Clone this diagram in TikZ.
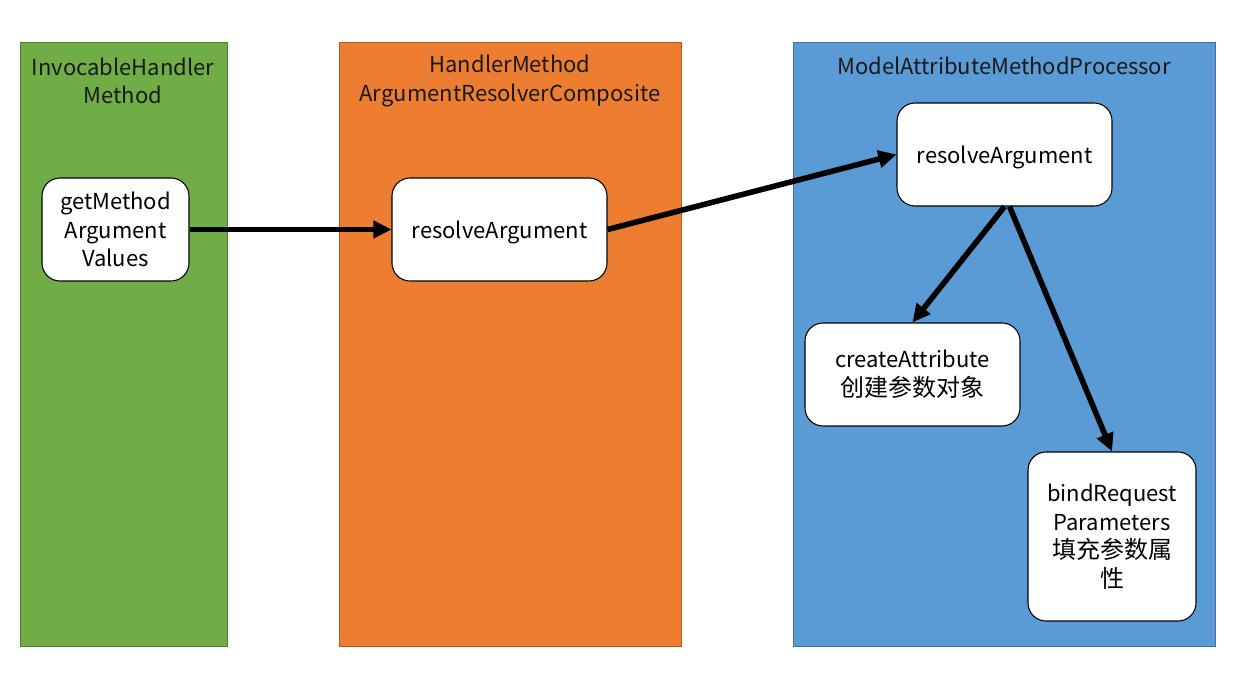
\documentclass[tikz,border=0pt]{standalone}
\usepackage{fontspec}
\newfontfamily\cjk{Noto Sans CJK SC}
\usetikzlibrary{arrows.meta}
\definecolor{pgreen}{HTML}{70AD47}
\definecolor{pgreenb}{HTML}{507E32}
\definecolor{porange}{HTML}{ED7D31}
\definecolor{porangeb}{HTML}{AE5A21}
\definecolor{pblue}{HTML}{5B9BD5}
\definecolor{pblueb}{HTML}{41719C}
\newcommand\zhtxt[1]{{\fontsize{18pt}{21.4pt}\selectfont #1}}
\tikzset{
  panel/.style={draw=#1, line width=0.75pt},
  ttl/.style={font=\cjk\fontsize{16.5pt}{21.4pt}\selectfont, text=black!90, align=center, inner sep=0pt},
  fbox/.style={draw=black, fill=white, line width=0.8pt, rounded corners=13.5pt, align=center, inner sep=0pt,
    font=\cjk\fontsize{16.5pt}{21.4pt}\selectfont, execute at begin node={\rule{0pt}{17pt}}},
  flow/.style={line width=4.2pt, -{Triangle[length=13.5pt,width=12.75pt]}}
}
\begin{document}
\begin{tikzpicture}[x=0.75pt,y=-0.75pt]
\useasboundingbox (0,0) rectangle (1252,684);
\fill[white] (0,0) rectangle (1252,684);
% panels
\draw[panel=pgreenb, fill=pgreen] (20,43) rectangle (227,646);
\draw[panel=porangeb, fill=porange] (339,43) rectangle (681,646);
\draw[panel=pblueb, fill=pblue] (793,43) rectangle (1215,646);
% titles
\node[ttl] (t1) at (123,81) {InvocableHandler\\Method};
\node[ttl] (t2) at (510,81) {HandlerMethod\\ArgumentResolverComposite};
\node[ttl] (t3) at (1004,66) {ModelAttributeMethodProcessor};
% boxes
\node[fbox, minimum width=110.25pt, minimum height=77.25pt] (gm) at (115.5,229.5) {getMethod\\Argument\\Values};
\node[fbox, minimum width=161.25pt, minimum height=77.25pt] (r1) at (499.5,229.5) {resolveArgument};
\node[fbox, minimum width=161.25pt, minimum height=77.25pt] (r2) at (1004.5,154.5) {resolveArgument};
\node[fbox, minimum width=161.25pt, minimum height=77.25pt] (ca) at (912.5,374.5) {createAttribute\\\zhtxt{创建参数对象}};
\node[fbox, minimum width=126pt, minimum height=126.75pt] (br) at (1112,536.5) {bindRequest\\Parameters\\\zhtxt{填充参数属}\\\zhtxt{性}};
% connectors
\draw[flow] (gm.east) -- (r1.west);
\draw[flow] (r1.east) -- (r2.west);
\draw[flow] (r2.south) -- (ca.north);
\draw[flow] ([xshift=3.75pt]r2.south) -- (br.north);
\end{tikzpicture}
\end{document}
